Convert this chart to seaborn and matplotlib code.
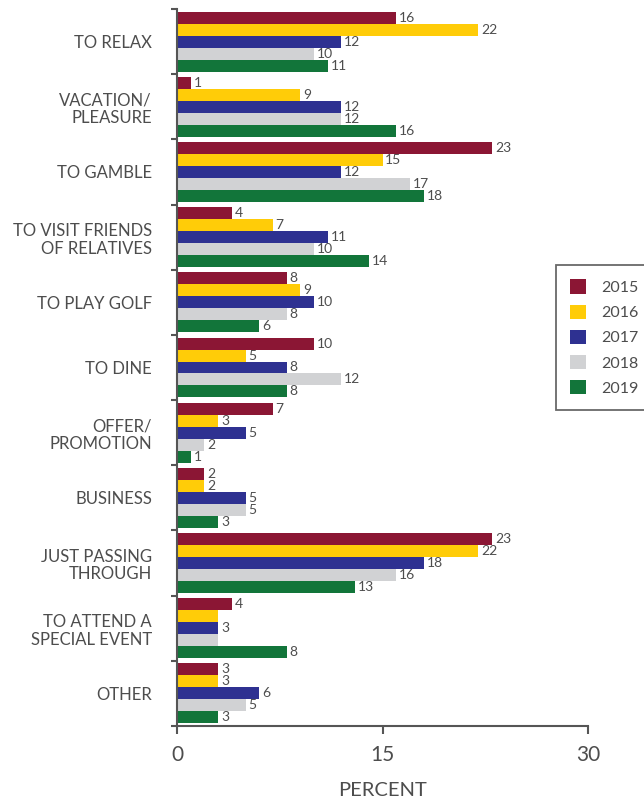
import matplotlib
matplotlib.use("Agg")
import matplotlib.pyplot as plt
import matplotlib.patches as mpatches
import numpy as np
import pandas as pd
import seaborn as sns

# ---- data -------------------------------------------------------------
categories = [
    "TO RELAX",
    "VACATION/\nPLEASURE",
    "TO GAMBLE",
    "TO VISIT FRIENDS\nOF RELATIVES",
    "TO PLAY GOLF",
    "TO DINE",
    "OFFER/\nPROMOTION",
    "BUSINESS",
    "JUST PASSING\nTHROUGH",
    "TO ATTEND A\nSPECIAL EVENT",
    "OTHER",
]
years = ["2015", "2016", "2017", "2018", "2019"]

values_2015 = [16, 1, 23, 4, 8, 10, 7, 2, 23, 4, 3]
values_2016 = [22, 9, 15, 7, 9, 5, 3, 2, 22, 3, 3]
values_2017 = [12, 12, 12, 11, 10, 8, 5, 5, 18, 3, 6]
values_2018 = [10, 12, 17, 10, 8, 12, 2, 5, 16, 3, 5]
values_2019 = [11, 16, 18, 14, 6, 8, 1, 3, 13, 8, 3]

# bars printed without a value label: (category index, year)
unlabeled = {(9, "2016"), (9, "2018")}

colors = ["#8B1634", "#FFCC08", "#2E3191", "#D1D2D4", "#12753A"]
x_ticks = [0, 15, 30]

series = [values_2015, values_2016, values_2017, values_2018, values_2019]
df = pd.DataFrame(
    [(c, y, v[i]) for y, v in zip(years, series) for i, c in enumerate(categories)],
    columns=["reason", "year", "percent"],
)

# ---- style ------------------------------------------------------------
sns.set_theme(style="white")
plt.rcParams["font.family"] = ["Lato", "DejaVu Sans"]
text_color = "#4D4D4D"
axis_color = "#555555"

fig = plt.figure(figsize=(6.44, 8.02), dpi=100)
ax = fig.add_axes([177 / 644, 1 - 726 / 802, (588 - 177) / 644, (726 - 9) / 802])

sns.barplot(
    data=df, y="reason", x="percent", hue="year",
    order=categories, hue_order=years, palette=colors,
    orient="h", width=0.92, gap=0, saturation=1, ax=ax, legend=False,
    linewidth=0,
)

# value labels at the end of each bar
for year, container in zip(years, ax.containers):
    vals = df[df["year"] == year].set_index("reason").loc[categories, "percent"].tolist()
    labels = ["" if (i, year) in unlabeled else f"{v:g}" for i, v in enumerate(vals)]
    ax.bar_label(container, labels=labels, padding=2, fontsize=10, color=text_color)

# axes
ax.set_xlim(0, 30)
ax.set_ylim(len(categories) - 0.5, -0.5)
ax.set_xticks(x_ticks)
ax.set_xticklabels([str(t) for t in x_ticks], fontsize=15, color=text_color)
ax.set_xlabel("PERCENT", fontsize=14.5, color=text_color, labelpad=12)
ax.set_ylabel("")

ax.set_yticks(range(len(categories)))
ax.set_yticklabels(categories, fontsize=12, color=text_color, linespacing=1.15)
ax.set_yticks(np.arange(-0.5, len(categories), 1.0), minor=True)
ax.tick_params(axis="y", which="major", length=0, pad=18)
ax.tick_params(axis="y", which="minor", length=4, width=1.5, color=axis_color, direction="out", left=True)
ax.tick_params(axis="x", which="major", length=6, width=1.5, color=axis_color, direction="out", bottom=True, pad=8)

for side in ["top", "right"]:
    ax.spines[side].set_visible(False)
for side in ["left", "bottom"]:
    ax.spines[side].set_color(axis_color)
    ax.spines[side].set_linewidth(1.5)

# legend
handles = [mpatches.Patch(facecolor=c, edgecolor="none", label=y) for c, y in zip(colors, years)]
leg = fig.legend(
    handles=handles, loc="upper left",
    bbox_to_anchor=(556 / 644, 1 - 265 / 802),
    frameon=True, fancybox=False, fontsize=11.5,
    handlelength=1.0, handleheight=1.0, handletextpad=0.9,
    labelspacing=0.6, borderpad=0.9, borderaxespad=0,
)
leg.get_frame().set_edgecolor("#444444")
leg.get_frame().set_linewidth(1.3)
for t in leg.get_texts():
    t.set_color(text_color)

fig.savefig("out.png", dpi=100)
